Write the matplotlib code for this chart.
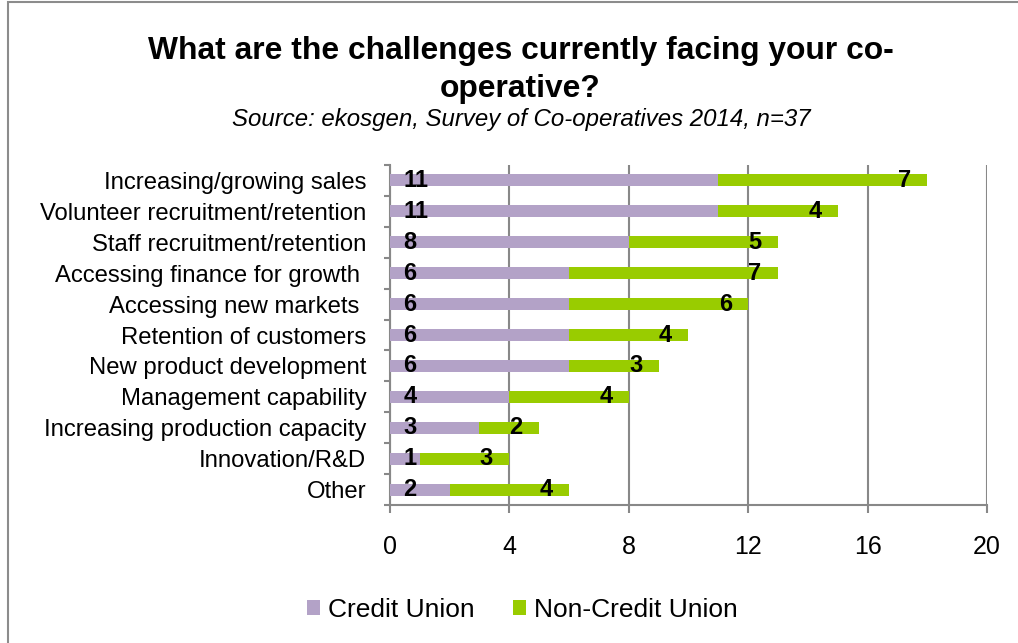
'''
Challenges facing co-operatives, split by credit union / non-credit union
'''

import numpy as np
import matplotlib.pyplot as plt
from matplotlib.patches import Rectangle
from matplotlib.ticker import MultipleLocator

plt.rcParams['font.family'] = ['Liberation Sans', 'DejaVu Sans']

CATEGORIES = [
    'Increasing/growing sales',
    'Volunteer recruitment/retention',
    'Staff recruitment/retention',
    'Accessing finance for growth ',
    'Accessing new markets ',
    'Retention of customers',
    'New product development',
    'Management capability',
    'Increasing production capacity',
    'Innovation/R&D',
    'Other',
]
CREDIT_UNION = [11, 11, 8, 6, 6, 6, 6, 4, 3, 1, 2]
NON_CREDIT_UNION = [7, 4, 5, 7, 6, 4, 3, 4, 2, 3, 4]
X_TICKS = [0, 4, 8, 12, 16, 20]

PURPLE = '#B3A2C7'
GREEN = '#99CC00'
GRID = '#888888'


def plot_challenges():
    fig = plt.figure(figsize=(10.18, 6.43), dpi=100)
    ax = fig.add_axes([0.383, 0.2146, 0.5866, 0.5288])

    cu = np.array(CREDIT_UNION)
    ncu = np.array(NON_CREDIT_UNION)
    y = np.arange(len(CATEGORIES))

    ax.barh(y, cu, height=0.39, color=PURPLE, label='Credit Union', zorder=3)
    ax.barh(y, ncu, left=cu, height=0.39, color=GREEN,
            label='Non-Credit Union', zorder=3)

    # value labels: credit union at the base, non-credit union near the end
    for yi, a, b in zip(y, cu, ncu):
        ax.text(0.45, yi, f'{a}', ha='left', va='center', fontsize=17,
                fontweight='bold', zorder=4)
        ax.text(a + b - 0.77, yi, f'{b}', ha='center', va='center',
                fontsize=17, fontweight='bold', zorder=4)

    ax.set_xlim(0, 20)
    ax.set_ylim(len(CATEGORIES) - 0.5, -0.5)
    ax.set_xticks(X_TICKS)
    ax.set_yticks(y)
    ax.set_yticklabels(CATEGORIES)
    ax.yaxis.set_minor_locator(MultipleLocator(1, offset=0.5))

    ax.grid(axis='x', color=GRID, linewidth=1.5, zorder=0)
    for side in ['top', 'right']:
        ax.spines[side].set_visible(False)
    for side in ['left', 'bottom']:
        ax.spines[side].set_color(GRID)
        ax.spines[side].set_linewidth(1.5)

    ax.tick_params(axis='y', which='major', length=0, pad=17, labelsize=17.2)
    ax.tick_params(axis='y', which='minor', length=4.5, width=1.5, color=GRID)
    ax.tick_params(axis='x', length=5.5, width=1.5, color=GRID, pad=16,
                   labelsize=18)

    fig.text(0.512, 0.920, 'What are the challenges currently facing your co-',
             ha='center', va='center', fontsize=22.9, fontweight='bold')
    fig.text(0.511, 0.861, 'operative?', ha='center', va='center',
             fontsize=22.9, fontweight='bold')
    fig.text(0.512, 0.814, 'Source: ekosgen, Survey of Co-operatives 2014, n=37',
             ha='center', va='center', fontsize=17.3, style='italic')

    fig.legend(loc='center', bbox_to_anchor=(0.513, 0.051), ncol=2, frameon=False,
               fontsize=19, handlelength=0.5, handleheight=0.5,
               handletextpad=0.3, columnspacing=1.45)

    # outer chart frame
    fig.patches.append(Rectangle((8 / 1018, -0.1), 1.2, 1.1 - 2 / 643,
                                 transform=fig.transFigure, fill=False,
                                 edgecolor='#8C8C8C', linewidth=1.5))

    fig.savefig('out.png', dpi=100)


if __name__ == '__main__':
    plot_challenges()
